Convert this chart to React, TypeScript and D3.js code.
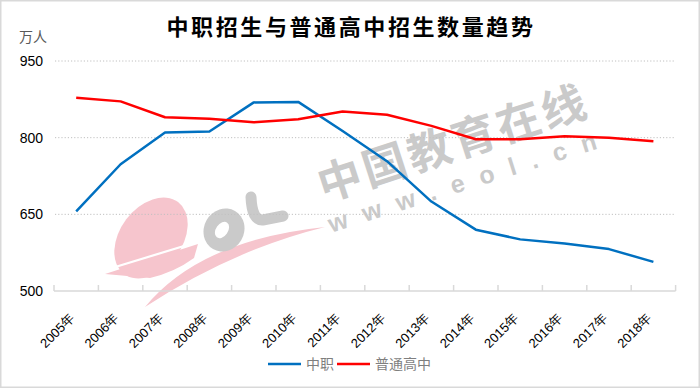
import { useEffect, useRef } from 'react'
import * as d3 from 'd3'

const years = ['2005年', '2006年', '2007年', '2008年', '2009年', '2010年', '2011年', '2012年', '2013年', '2014年', '2015年', '2016年', '2017年', '2018年']
const zhongzhi = [656, 748, 810, 812, 869, 870, 813, 754, 675, 620, 601, 593, 582, 557]
const gaozhong = [878, 871, 840, 837, 830, 836, 851, 845, 823, 797, 797, 803, 800, 793]
const yTicks = [500, 650, 800, 950]
const seriesNames = ['中职', '普通高中']
const seriesColors = ['#0070C0', '#FF0000']

export default function App() {
  const svgRef = useRef<SVGSVGElement | null>(null)

  useEffect(() => {
    if (!svgRef.current) return
    const width = 700
    const height = 388
    const cjk = '"Noto Sans CJK SC", sans-serif'
    const latin = '"Liberation Sans", Arial, sans-serif'

    const svg = d3.select(svgRef.current)
    svg.selectAll('*').remove()
    svg.attr('width', width).attr('height', height)

    svg.append('rect')
      .attr('x', 0.75).attr('y', 0.75)
      .attr('width', width - 1.5).attr('height', height - 1.5)
      .attr('fill', '#fff')
      .attr('stroke', '#d9d9d9')
      .attr('stroke-width', 1.5)

    // watermark (logo + site text)
    const wm = svg.append('g')
    const pink = '#f6c5cd'
    const grey = '#cacaca'
    wm.append('ellipse')
      .attr('cx', 151).attr('cy', 238).attr('rx', 31).attr('ry', 45)
      .attr('transform', 'rotate(37 151 238)')
      .attr('fill', pink)
    wm.append('path')
      .attr('d', 'M105,274 L198,244 L194,258 Q175,272 150,278 Z')
      .attr('fill', pink)
    wm.append('path')
      .attr('d', 'M112,268 L197,242')
      .attr('stroke', '#fff').attr('stroke-width', 2.2)
    wm.append('path')
      .attr('d', 'M145,307 Q200,240 325,227 Q232,250 145,307 Z')
      .attr('fill', pink)
    wm.append('ellipse')
      .attr('cx', 224).attr('cy', 230).attr('rx', 20).attr('ry', 22)
      .attr('transform', 'rotate(30 224 230)')
      .attr('fill', grey)
    wm.append('ellipse')
      .attr('cx', 222).attr('cy', 230).attr('rx', 6).attr('ry', 9)
      .attr('transform', 'rotate(35 222 230)')
      .attr('fill', '#fff')
    wm.append('path')
      .attr('d', 'M251,197 Q252,221 263,220 L283,216')
      .attr('fill', 'none')
      .attr('stroke', grey).attr('stroke-width', 11)
      .attr('stroke-linecap', 'round')
    wm.append('text')
      .attr('transform', 'translate(452,140) rotate(-18)')
      .attr('text-anchor', 'middle')
      .attr('dominant-baseline', 'central')
      .attr('font-family', cjk)
      .attr('font-weight', 700)
      .attr('font-size', 44)
      .attr('letter-spacing', 3)
      .attr('fill', grey)
      .text('中国教育在线')
    wm.append('text')
      .attr('transform', 'translate(462,182) rotate(-17.5)')
      .attr('text-anchor', 'middle')
      .attr('dominant-baseline', 'central')
      .attr('font-family', latin)
      .attr('font-weight', 700)
      .attr('font-size', 25)
      .attr('textLength', 280)
      .attr('lengthAdjust', 'spacing')
      .attr('fill', grey)
      .text('www.eol.cn')

    const x = d3.scaleBand<string>().domain(years).range([54, 675.6]).padding(0)
    const y = d3.scaleLinear().domain([500, 950]).range([291, 61])
    const cx = (d: string) => (x(d) ?? 0) + x.bandwidth() / 2

    // Title
    svg.append('text')
      .attr('x', 351).attr('y', 35)
      .attr('text-anchor', 'middle')
      .attr('font-family', cjk)
      .attr('font-weight', 700)
      .attr('font-size', 22)
      .attr('letter-spacing', 2.6)
      .attr('fill', '#000')
      .text('中职招生与普通高中招生数量趋势')

    svg.append('text')
      .attr('x', 19).attr('y', 42)
      .attr('font-family', cjk)
      .attr('font-size', 14)
      .attr('fill', '#595959')
      .text('万人')

    // grid
    svg.append('g')
      .selectAll('line')
      .data(yTicks.filter(t => t !== 500))
      .enter()
      .append('line')
      .attr('x1', 55).attr('x2', 675)
      .attr('y1', d => y(d)).attr('y2', d => y(d))
      .attr('stroke', '#c0c0c0')
      .attr('stroke-width', 1)
      .attr('stroke-dasharray', '1.2,2')

    svg.append('g')
      .selectAll('text')
      .data(yTicks)
      .enter()
      .append('text')
      .attr('x', 43).attr('y', d => y(d))
      .attr('dy', '0.36em')
      .attr('text-anchor', 'end')
      .attr('font-family', latin)
      .attr('font-size', 14)
      .attr('fill', '#000')
      .text(d => d)

    // x axis
    svg.append('line')
      .attr('x1', 54).attr('x2', 675.6)
      .attr('y1', y(500)).attr('y2', y(500))
      .attr('stroke', '#d9d9d9').attr('stroke-width', 1.5)
    const tickXs = years.map(d => x(d) ?? 0).concat([675.6])
    svg.append('g')
      .selectAll('line')
      .data(tickXs)
      .enter()
      .append('line')
      .attr('x1', d => d).attr('x2', d => d)
      .attr('y1', y(500) - 6).attr('y2', y(500))
      .attr('stroke', '#d9d9d9').attr('stroke-width', 1.5)

    svg.append('g')
      .selectAll('text')
      .data(years)
      .enter()
      .append('text')
      .attr('transform', d => `translate(${cx(d) - 1},319) rotate(-45)`)
      .attr('text-anchor', 'end')
      .attr('font-family', latin)
      .attr('font-size', 13)
      .attr('fill', '#000')
      .text(d => d)

    // lines
    const line = d3.line<number>()
      .x((_, i) => cx(years[i]))
      .y(d => y(d))
    ;[zhongzhi, gaozhong].forEach((s, i) => {
      svg.append('path')
        .datum(s)
        .attr('d', line)
        .attr('fill', 'none')
        .attr('stroke', seriesColors[i])
        .attr('stroke-width', 2.5)
        .attr('stroke-linejoin', 'round')
    })

    // legend
    const legendX = [268, 337]
    seriesNames.forEach((name, i) => {
      svg.append('line')
        .attr('x1', legendX[i]).attr('x2', legendX[i] + 33)
        .attr('y1', 364).attr('y2', 364)
        .attr('stroke', seriesColors[i]).attr('stroke-width', 2.5)
      svg.append('text')
        .attr('x', legendX[i] + 38).attr('y', 369)
        .attr('font-family', cjk)
        .attr('font-size', 14)
        .attr('fill', '#7f7f7f')
        .text(name)
    })
  }, [])

  return (
    <div style={{ position: 'absolute', left: 0, top: 0 }}>
      <svg ref={svgRef} style={{ display: 'block' }}></svg>
    </div>
  )
}
